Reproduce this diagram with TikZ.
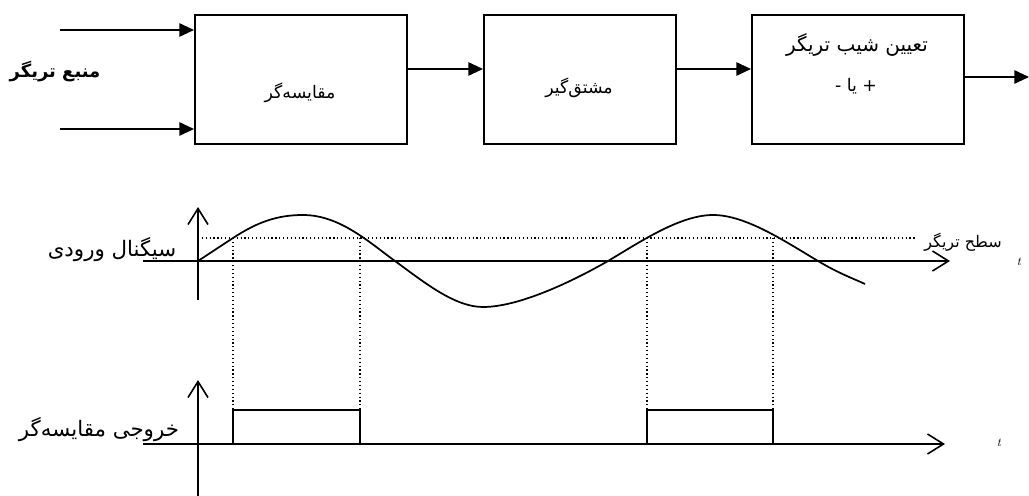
\documentclass[tikz,border=0pt]{standalone}
\usepackage{fontspec}
\usetikzlibrary{arrows.meta}
\newfontfamily\fa[Script=Arabic]{DejaVu Sans}
\TeXXeTstate=1
\newcommand{\fatext}[1]{\fa\beginR #1\endR}

\begin{document}
\begin{tikzpicture}[x=0.75pt,y=-0.75pt,
  blockbox/.style={draw, line width=1.3pt, inner sep=0pt, anchor=north west},
  flow/.style={line width=1.3pt, -{Triangle[length=11pt,width=10pt]}},
  axis/.style={line width=1.2pt, -{Straight Barb[length=12pt,width=15pt,line width=1.2pt]}},
  level/.style={line width=0.9pt, dotted},
  wave/.style={line width=1.3pt},
  lbl/.style={inner sep=0pt, font=\fa\fontsize{13}{15}\selectfont},
  biglbl/.style={inner sep=0pt, font=\fa\fontsize{16}{18}\selectfont},
  tmark/.style={inner sep=0pt, font=\fontsize{9}{10}\selectfont\itshape}]
\useasboundingbox (0,0) rectangle (1029,496);

% block chain
\node[blockbox, minimum width=159pt, minimum height=96.75pt] (cmp) at (194,14) {};
\node[blockbox, minimum width=144pt, minimum height=96.75pt] (dif) at (483,14) {};
\node[blockbox, minimum width=159pt, minimum height=96.75pt] (slp) at (751,14) {};

\node[lbl] (cmptxt) at (300,93) {\fatext{مقایسه‌گر}};
\node[lbl] (diftxt) at (579,88) {\fatext{مشتق‌گیر}};
\node[lbl, font=\fa\fontsize{15}{17}\selectfont] (slptxt1) at (857,45) {\fatext{تعیین شیب تریگر}};
\node[lbl] (slptxt2) at (856,86) {\fatext{+ یا -}};

\node[inner sep=0pt, font=\fa\bfseries\fontsize{13.5}{15}\selectfont] (src) at (55,72) {\fatext{منبع تریگر}};

\coordinate (inA) at (60,30);
\coordinate (inB) at (60,129);
\coordinate (midrow) at (0,69);
\coordinate (outrow) at (0,77);
\coordinate (outend) at (1029,77);

\draw[flow] (inA) -- (inA -| cmp.west);
\draw[flow] (inB) -- (inB -| cmp.west);
\draw[flow] (cmp.east |- midrow) -- (dif.west |- midrow);
\draw[flow] (dif.east |- midrow) -- (slp.west |- midrow);
\draw[flow] (slp.east |- outrow) -- (outend);

% input signal
\draw[axis] (198,300) -- (198,207);
\draw[axis] (143,261) -- (950,261);
\draw[level] (198,238) -- (915,238);
\draw[wave, line join=round] (198,261) -- (233,238)
  .. controls (258,221.6) and (278,215) .. (303,215)
  .. controls (340,215) and (370,243) .. (395,261)
  .. controls (425,283) and (455,307) .. (483,307)
  .. controls (520,307) and (575,280) .. (608,261)
  .. controls (640,242) and (680,215) .. (713,215)
  .. controls (745,215) and (783,240) .. (818,261)
  .. controls (838,273) and (852,278) .. (865,284);

\node[biglbl] (sig) at (112,250) {\fatext{سیگنال ورودی}};
\node[inner sep=0pt, font=\fa\fontsize{12}{14}\selectfont] (lvl) at (963,242) {\fatext{سطح تریگر}};
\node[tmark] (t1) at (1019,262) {t};

% comparator output
\draw[level] (233,238) -- (233,410);
\draw[level] (360,238) -- (360,410);
\draw[level] (647,238) -- (647,410);
\draw[level] (773,238) -- (773,410);

\draw[axis] (198,496) -- (198,380);
\draw[axis] (143,444) -- (945,444);
\draw[wave] (233,444) -- (233,410) -- (360,410) -- (360,444);
\draw[wave] (647,444) -- (647,410) -- (773,410) -- (773,444);

\node[biglbl] (outlbl) at (99,430) {\fatext{خروجی مقایسه‌گر}};
\node[tmark] (t2) at (999,443) {t};
\end{tikzpicture}
\end{document}
